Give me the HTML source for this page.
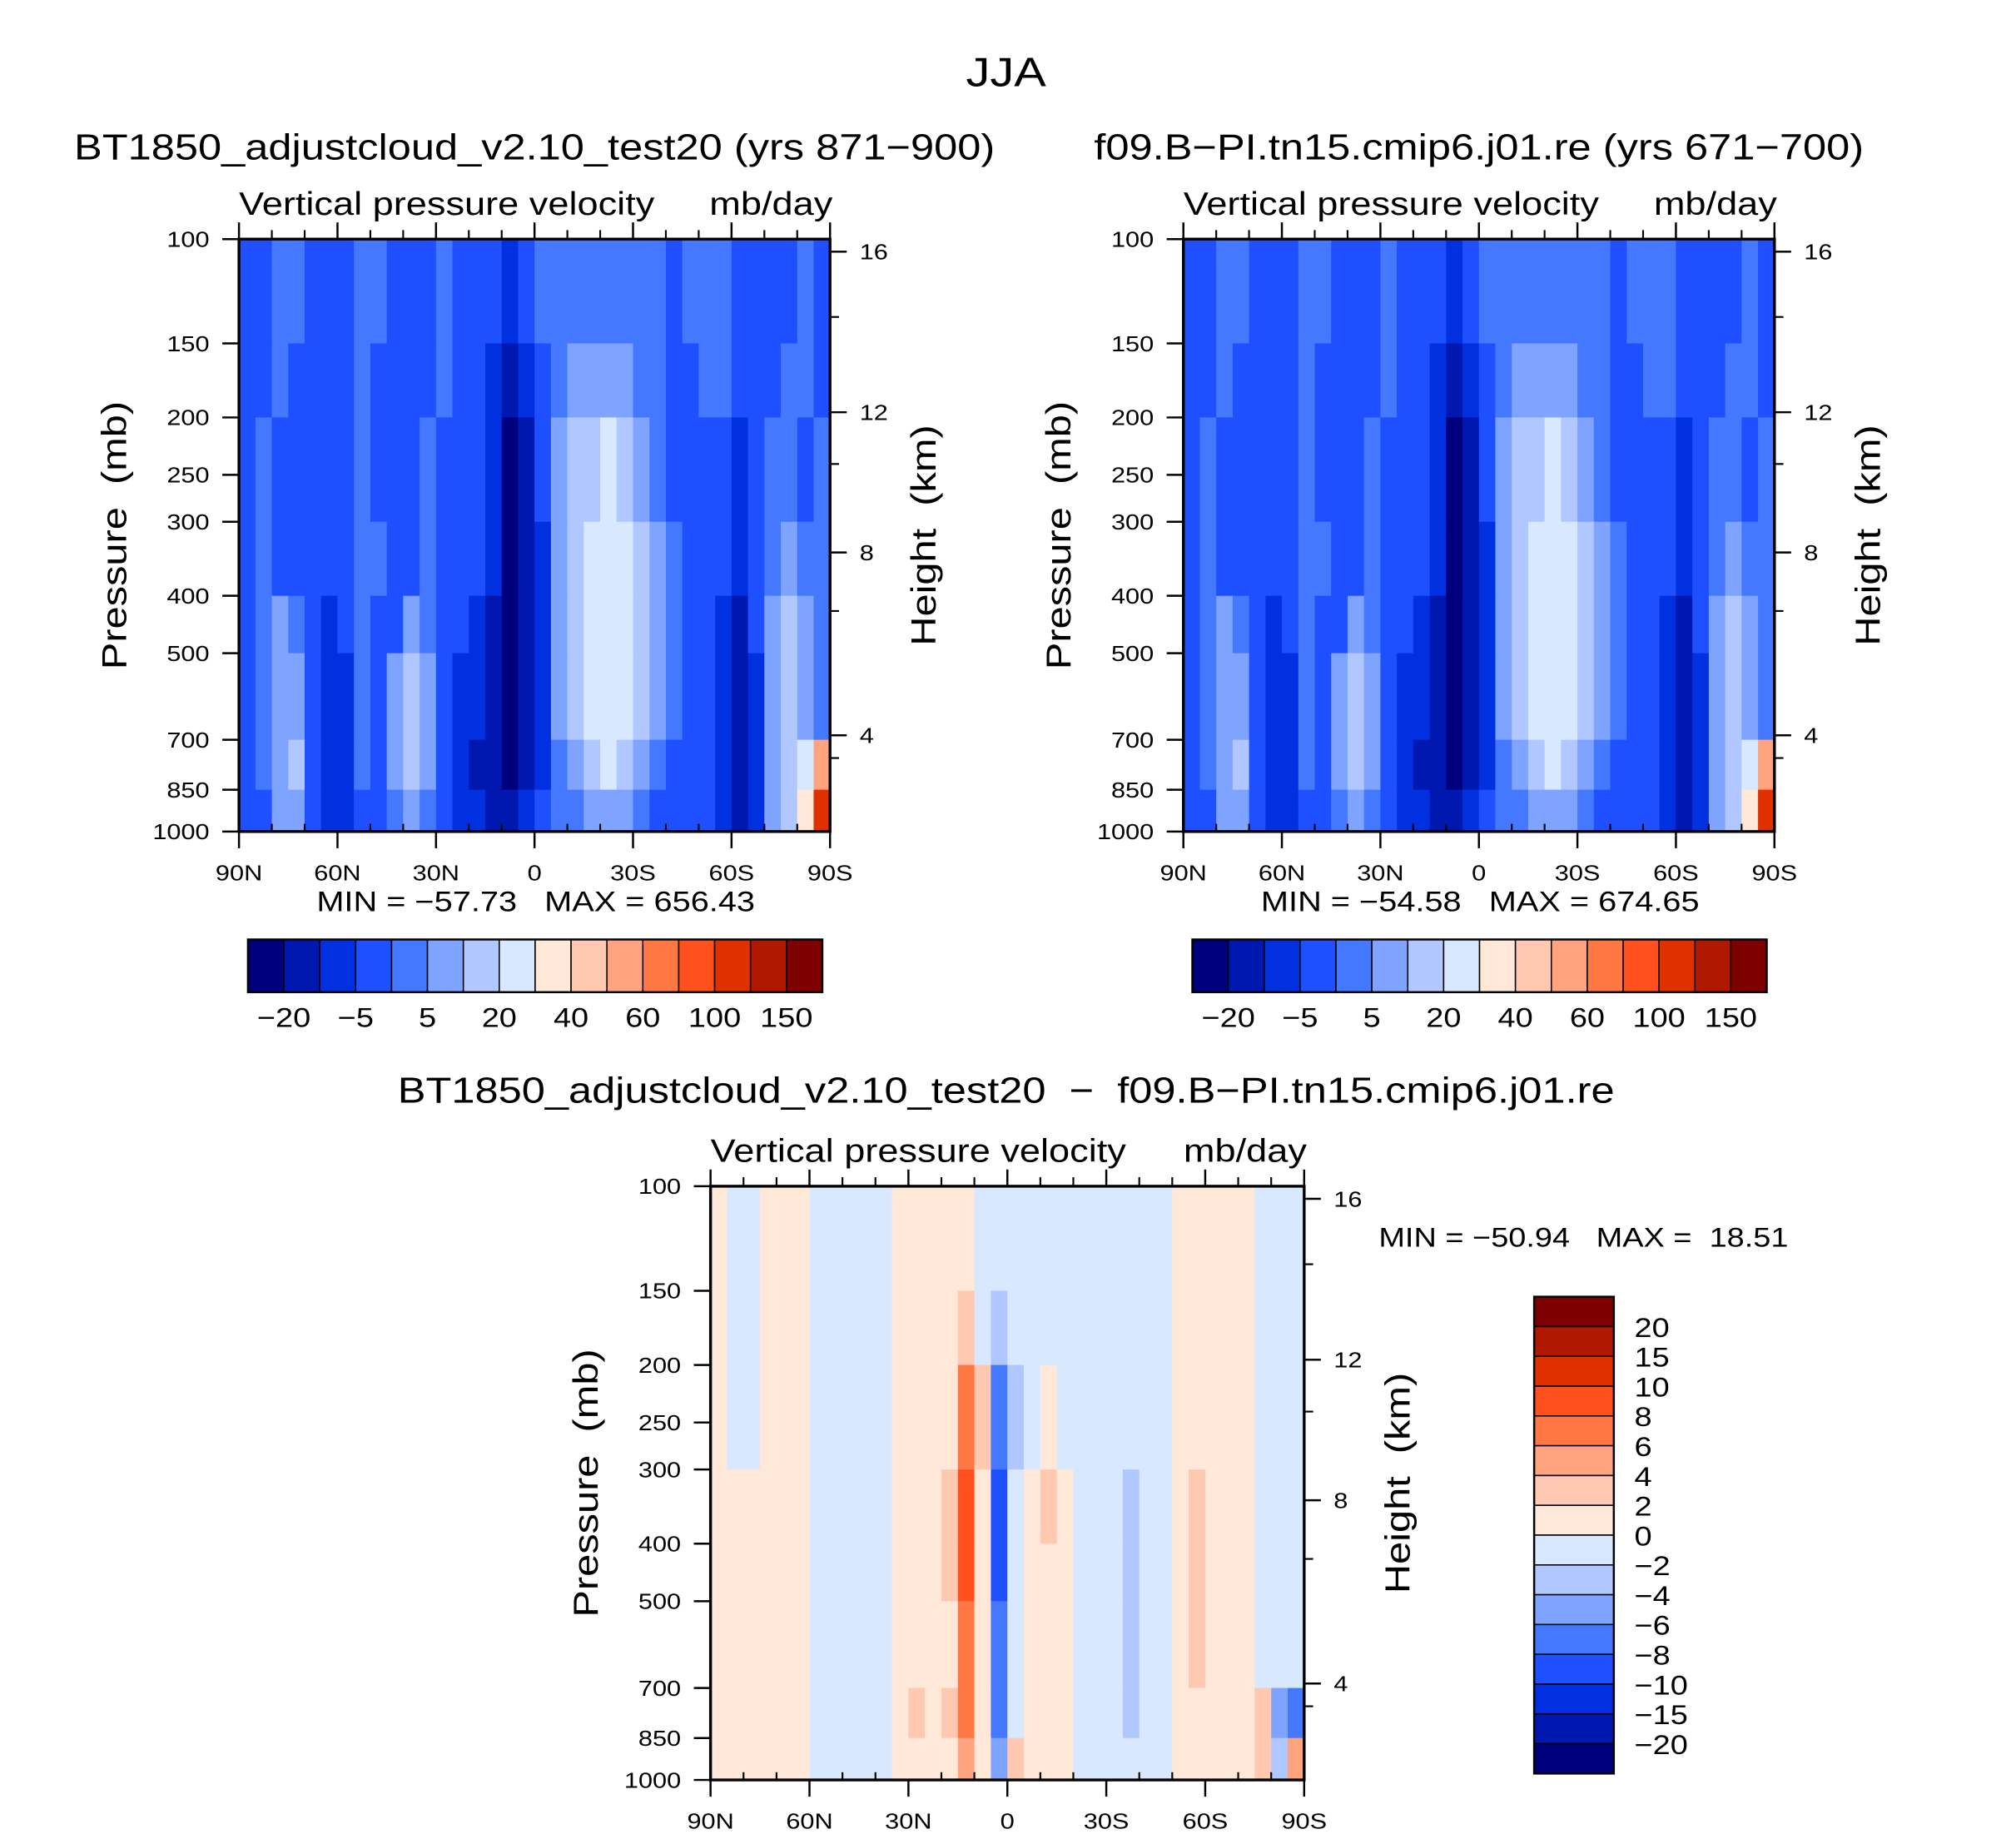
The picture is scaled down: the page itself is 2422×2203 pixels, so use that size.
<!DOCTYPE html>
<html><head><meta charset="utf-8"><style>
html,body{margin:0;padding:0;background:#fff}
svg{display:block}
text{font-family:"Liberation Sans",sans-serif;fill:#000;white-space:pre}
</style></head><body>
<svg id="fig" xmlns="http://www.w3.org/2000/svg" width="2422" height="2203" viewBox="0 0 1569 1427" xml:space="preserve">
<rect width="1569" height="1427" fill="#fff"/>
<text x="783" y="67" font-size="32" text-anchor="middle">JJA</text>
<g id="root"></g>
</svg>
<script>
// ---------- data ----------
const latTicks = ["90N","60N","30N","0","30S","60S","90S"];
const pressTicks = [100,150,200,250,300,400,500,700,850,1000];
const heightTicks = [16,12,8,4];
const heightTickP = [105,196,338,688];
const pRows = [100,150,200,300,400,500,700,850,1000];
const meanLevels = [-20,-10,-5,0,5,10,20,30,40,50,60,80,100,120,150];
const meanLabels = ["−20","−5","5","20","40","60","100","150"];
const diffLevels = [-20,-15,-10,-8,-6,-4,-2,0,2,4,6,8,10,15,20];
const diffLabels = ["20","15","10","8","6","4","2","0","−2","−4","−6","−8","−10","−15","−20"];
const colors = ["#00007f","#0018b0","#0030e0","#1e50ff","#4478ff","#7ea4ff","#b0c8ff","#d8e8ff","#ffe8d8","#ffc8b0","#ffa47e","#ff7844","#ff501e","#e03000","#b01800","#7f0000"];

const testField = [
 [-2,-2,2,2,-2,-2,-2,2,2,-2,-2,-2,2,-2,-2,-2,-7,-2,2,2,2,2,2,2,2,2,-2,2,2,2,-2,-2,-2,-2,2,-2],
 [-2,-2,2,-2,-2,-2,-2,2,-2,-2,-2,-2,2,-2,-2,-7,-15,-7,-2,2,7,7,7,7,2,2,-2,-2,2,2,-2,-2,-2,2,2,-2],
 [-2,2,-2,-2,-2,-2,-2,2,-2,-2,-2,2,-2,-2,-2,-7,-25,-15,-2,7,15,15,25,15,7,2,-2,-2,-2,-2,-7,-2,2,2,-2,2],
 [-2,2,-2,-2,-2,-2,-2,2,2,-2,-2,2,-2,-2,-2,-7,-25,-15,-7,7,15,25,25,25,15,7,2,-2,-2,-2,-7,-2,2,7,2,2],
 [-2,2,7,2,-2,-7,-2,2,-2,-2,7,2,-2,-2,-7,-15,-25,-15,-7,7,15,25,25,25,15,7,2,-2,-2,-7,-15,-2,7,15,7,2],
 [-2,2,7,7,-2,-7,-7,2,-2,7,15,7,-2,-7,-7,-15,-25,-15,-7,7,15,25,25,25,15,7,2,-2,-2,-7,-15,-7,7,15,7,2],
 [-2,2,7,15,-2,-7,-7,2,-2,7,15,7,-2,-7,-15,-15,-25,-15,-7,2,7,15,25,15,7,2,-2,-2,-2,-7,-15,-7,7,15,25,60],
 [-2,-2,7,7,-2,-7,-7,-2,-2,2,7,2,-2,-7,-7,-15,-15,-7,-2,2,2,7,7,7,2,-2,-2,-2,-2,-7,-15,-7,7,15,35,120]
];
const ctrlField = [
 [-2,-2,2,2,-2,-2,-2,2,2,-2,-2,-2,2,-2,-2,-2,-7,-2,2,2,2,2,2,2,2,2,-2,2,2,2,-2,-2,-2,-2,2,-2],
 [-2,-2,2,-2,-2,-2,-2,2,-2,-2,-2,-2,2,-2,-2,-7,-15,-7,-2,2,7,7,7,7,2,2,-2,-2,2,2,-2,-2,-2,2,2,-2],
 [-2,2,-2,-2,-2,-2,-2,2,-2,-2,-2,2,-2,-2,-2,-7,-25,-15,-2,7,15,15,25,15,7,2,-2,-2,-2,-2,-7,-2,2,2,-2,2],
 [-2,2,-2,-2,-2,-2,-2,2,2,-2,-2,2,-2,-2,-2,-7,-25,-15,-7,7,15,25,25,25,15,7,2,-2,-2,-2,-7,-2,2,7,2,2],
 [-2,2,7,2,-2,-7,-2,2,-2,-2,7,2,-2,-2,-7,-15,-25,-15,-7,7,15,25,25,25,15,7,2,-2,-2,-7,-15,-2,7,15,7,2],
 [-2,2,7,7,-2,-7,-7,2,-2,7,15,7,-2,-7,-7,-15,-25,-15,-7,7,15,25,25,25,15,7,2,-2,-2,-7,-15,-7,7,15,7,2],
 [-2,2,7,15,-2,-7,-7,2,-2,7,15,7,-2,-7,-15,-15,-25,-15,-7,2,7,15,25,15,7,2,-2,-2,-2,-7,-15,-7,7,15,25,60],
 [-2,-2,7,7,-2,-7,-7,-2,-2,2,7,2,-2,-7,-7,-15,-15,-7,-2,2,2,7,7,7,2,-2,-2,-2,-2,-7,-15,-7,7,15,35,120]
];
const diffField = [
 [1,-1,-1,1,1,1,-1,-1,-1,-1,-1,1,1,1,1,1,-1,-1,-1,-1,-1,-1,-1,-1,-1,-1,-1,-1,1,1,1,1,1,-1,-1,-1],
 [1,-1,-1,1,1,1,-1,-1,-1,-1,-1,1,1,1,1,3,-1,-3,-1,-1,-1,-1,-1,-1,-1,-1,-1,-1,1,1,1,1,1,-1,-1,-1],
 [1,-1,-1,1,1,1,-1,-1,-1,-1,-1,1,1,1,1,7,3,-7,-3,-1,1,-1,-1,-1,-1,-1,-1,-1,1,1,1,1,1,-1,-1,-1],
 [1,1,1,1,1,1,-1,-1,-1,-1,-1,1,1,1,3,9,1,-9,-1,1,3,1,-1,-1,-1,-3,-1,-1,1,3,1,1,1,-1,-1,-1],
 [1,1,1,1,1,1,-1,-1,-1,-1,-1,1,1,1,3,9,1,-9,-1,1,1,1,-1,-1,-1,-3,-1,-1,1,3,1,1,1,-1,-1,-1],
 [1,1,1,1,1,1,-1,-1,-1,-1,-1,1,1,1,1,7,1,-7,-1,1,1,1,-1,-1,-1,-3,-1,-1,1,3,1,1,1,-1,-1,-1],
 [1,1,1,1,1,1,-1,-1,-1,-1,-1,1,3,1,3,7,1,-7,-1,1,1,1,-1,-1,-1,-3,-1,-1,1,1,1,1,1,3,-5,-7],
 [1,1,1,1,1,1,-1,-1,-1,-1,-1,1,1,1,1,5,1,-5,3,1,1,1,-1,-1,-1,-1,-1,-1,1,1,1,1,1,3,-3,5]
];

// ---------- drawing ----------
const NS="http://www.w3.org/2000/svg";
const root=document.getElementById('root');
function el(tag,attrs,parent,txt){const e=document.createElementNS(NS,tag);for(const k in attrs)e.setAttribute(k,attrs[k]);if(txt!==undefined)e.textContent=txt;(parent||root).appendChild(e);return e;}
function colorIdx(v,levels){let i=0;for(const b of levels){if(v>b)i++;}return i;}
function ln(g,x1,y1,x2,y2,w){return el('line',{x1:x1,y1:y1,x2:x2,y2:y2,stroke:'#000','stroke-width':w||1.6},g);}

function drawPanel(name,x0,y0,w,h,field,levels,title){
  const g=el('g',{});
  
  
  const xOf=lat=>x0+(90-lat)/180*w;
  const yOf=p=>y0+h*Math.log10(p/100);
  const nc=field[0].length;
  const cells=el('g',{},g);
  
  
  for(let r=0;r<field.length;r++){
    const ya=yOf(pRows[r]),yb=yOf(pRows[r+1]);
    for(let c=0;c<nc;c++){
      const la=90-180*c/nc,lb=90-180*(c+1)/nc;
      const xa=xOf(la),xb=xOf(lb);
      const rc=el('rect',{x:xa,y:ya,width:xb-xa+0.6,height:yb-ya+0.6,fill:colors[colorIdx(field[r][c],levels)]},cells);
      
      
    }
  }
  const fr=el('rect',{x:x0,y:y0,width:w,height:h,fill:'none',stroke:'#000','stroke-width':2.2},g);
  
  
  for(let k=0;k<=18;k++){
    const x=x0+k*w/18, major=k%3===0;
    if(major){ ln(g,x,y0+h,x,y0+h+13); ln(g,x,y0,x,y0-13); }
    else { ln(g,x,y0+h,x,y0+h-6,1.4); ln(g,x,y0,x,y0-7,1.4); }
  }
  latTicks.forEach((t,i)=>{
    const tx=el('text',{x:x0+i*w/6,y:y0+h+38,'font-size':17,'text-anchor':'middle'},g,t);
    
    
  });
  pressTicks.forEach(p=>{
    const y=yOf(p);
    ln(g,x0,y,x0-13,y);
    const tx=el('text',{x:x0-23,y:y+6,'font-size':17,'text-anchor':'end'},g,String(p));
    
    
  });
  heightTicks.forEach((hk,i)=>{
    const y=yOf(heightTickP[i]);
    ln(g,x0+w,y,x0+w+13,y);
    const tx=el('text',{x:x0+w+23,y:y+6,'font-size':17},g,String(hk));
    
    
  });
  for(let hk=2;hk<=16;hk+=2){ if(hk%4===0)continue;
    const p=1000*Math.exp(-hk/7); const y=yOf(Math.max(100,Math.min(1000,p)));
    ln(g,x0+w,y,x0+w+7,y,1.4);
  }
  const st=el('text',{x:x0,y:y0-19,'font-size':25},g,'Vertical pressure velocity');
  
  const un=el('text',{x:x0+w+2,y:y0-19,'font-size':25,'text-anchor':'end'},g,'mb/day');
  
  const yl=el('text',{x:0,y:0,'font-size':27,'text-anchor':'middle',transform:`translate(${x0-88},${y0+h/2}) rotate(-90)`},g,'Pressure  (mb)');
  
  const hl=el('text',{x:0,y:0,'font-size':27,'text-anchor':'middle',transform:`translate(${x0+w+82},${y0+h/2}) rotate(-90)`},g,'Height  (km)');
  
  if(title){
    const t=el('text',{x:x0+w/2,y:y0-62,'font-size':28,'text-anchor':'middle'},g,title);
    
  }
}

function hColorbar(name,x0,y0,w,h,labels){
  const g=el('g',{});
  
  const bw=w/colors.length;
  colors.forEach((c,i)=>{
    const r=el('rect',{x:x0+i*bw,y:y0,width:bw,height:h,fill:c,stroke:'#000','stroke-width':1},g);
    
  });
  el('rect',{x:x0,y:y0,width:w,height:h,fill:'none',stroke:'#000','stroke-width':1.6},g);
  labels.forEach((t,i)=>{
    const tx=el('text',{x:x0+(2*i+1)*bw,y:y0+h+27,'font-size':21,'text-anchor':'middle'},g,t);
    
  });
}
function vColorbar(name,x0,y0,w,h,labels){
  const g=el('g',{});
  
  const bh=h/colors.length;
  colors.slice().reverse().forEach((c,i)=>{
    const r=el('rect',{x:x0,y:y0+i*bh,width:w,height:bh,fill:c,stroke:'#000','stroke-width':1},g);
    
  });
  el('rect',{x:x0,y:y0,width:w,height:h,fill:'none',stroke:'#000','stroke-width':1.6},g);
  labels.forEach((t,i)=>{
    const tx=el('text',{x:x0+w+16,y:y0+(i+1)*bh+8,'font-size':21},g,t);
    
  });
}
function label(name,x,y,size,anchor,txt){
  const t=el('text',{x:x,y:y,'font-size':size,'text-anchor':anchor},root,txt);
  
}

drawPanel('test-panel',186,186,460,461,testField,meanLevels,'BT1850_adjustcloud_v2.10_test20 (yrs 871−900)');
drawPanel('control-panel',921,186,460,461,ctrlField,meanLevels,'f09.B−PI.tn15.cmip6.j01.re (yrs 671−700)');
label('test-min-max',417,709,22,'middle','MIN = −57.73   MAX = 656.43');
label('control-min-max',1152,709,22,'middle','MIN = −54.58   MAX = 674.65');
hColorbar('test-colorbar',193,731,447,41,meanLabels);
hColorbar('control-colorbar',928,731,447,41,meanLabels);
label('diff-title',783,858,28,'middle','BT1850_adjustcloud_v2.10_test20  −  f09.B−PI.tn15.cmip6.j01.re');
drawPanel('diff-panel',553,923,462,462,diffField,diffLevels,null);
label('diff-min-max',1073,970,21,'start','MIN = −50.94   MAX =  18.51');
vColorbar('diff-colorbar',1194,1009,62,371,diffLabels);

document.querySelectorAll('#fig text').forEach(t=>{
  try{const L=t.getComputedTextLength(); if(L>0){t.setAttribute('textLength',(L*1.17).toFixed(1));t.setAttribute('lengthAdjust','spacingAndGlyphs');}}catch(e){}
});
</script>
</body></html>
